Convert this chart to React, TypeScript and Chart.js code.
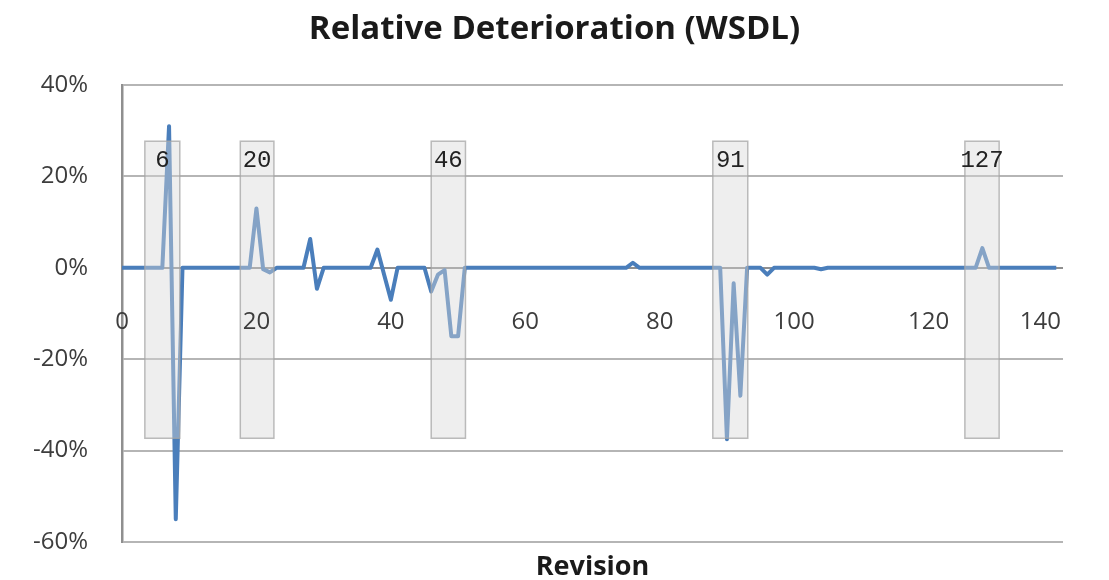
import { useEffect, useRef } from "react";
import { Chart, registerables } from "chart.js";

Chart.register(...registerables);

// Relative deterioration per revision (percent), revisions 0..139
const deterioration: number[] = [
  0, 0, 0, 0, 0, 0, 0, 31, -55, 0,
  0, 0, 0, 0, 0, 0, 0, 0, 0, 0,
  13, -0.3, -1, 0, 0, 0, 0, 0, 6.3, -4.6,
  0, 0, 0, 0, 0, 0, 0, 0, 4, -1.5,
  -7, 0, 0, 0, 0, 0, -5.2, -1.5, -0.5, -15,
  -15, 0, 0, 0, 0, 0, 0, 0, 0, 0,
  0, 0, 0, 0, 0, 0, 0, 0, 0, 0,
  0, 0, 0, 0, 0, 0, 1.1, 0, 0, 0,
  0, 0, 0, 0, 0, 0, 0, 0, 0, 0,
  -37.5, -3.4, -28, 0, 0, 0, -1.5, 0, 0, 0,
  0, 0, 0, 0, -0.3, 0, 0, 0, 0, 0,
  0, 0, 0, 0, 0, 0, 0, 0, 0, 0,
  0, 0, 0, 0, 0, 0, 0, 0, 4.3, 0,
  0, 0, 0, 0, 0, 0, 0, 0, 0, 0,
];

// Horizontal axis tick labels (revision numbers)
const xTickValues: number[] = [0, 20, 40, 60, 80, 100, 120, 140];

// Vertical axis range (percent)
const yMin = -60;
const yMax = 40;
const yStep = 20;

// Highlighted revision windows
const highlightLabels: string[] = ["6", "20", "46", "91", "127"];
const highlightFrom: number[] = [3.4, 17.6, 46, 87.9, 125.4];
const highlightTo: number[] = [8.6, 22.6, 51.1, 93.1, 130.5];
const highlightTop = 27.7;
const highlightBottom = -37.3;

const TEXT = "#3d3d3d";
const SANS = "'Open Sans', Lato, sans-serif";

const overlayPlugin = {
  id: "revisionOverlay",
  afterDatasetsDraw(chart: any) {
    const { ctx, scales } = chart;
    const x = scales.x;
    const y = scales.y;
    const t = y.getPixelForValue(highlightTop);
    const b = y.getPixelForValue(highlightBottom);
    ctx.save();
    highlightLabels.forEach((label, i) => {
      const l = x.getPixelForValue(highlightFrom[i]);
      const r = x.getPixelForValue(highlightTo[i]);
      ctx.fillStyle = "rgba(215,215,215,0.42)";
      ctx.fillRect(l, t, r - l, b - t);
      ctx.strokeStyle = "rgba(165,165,165,0.75)";
      ctx.lineWidth = 1.5;
      ctx.strokeRect(l, t, r - l, b - t);
      ctx.fillStyle = "#222";
      ctx.font = "24px 'Liberation Mono', monospace";
      ctx.textAlign = "center";
      ctx.textBaseline = "middle";
      ctx.fillText(label, (l + r) / 2, t + 19);
    });
    ctx.restore();
  },
  afterDraw(chart: any) {
    const { ctx, scales, chartArea } = chart;
    const x = scales.x;
    const y = scales.y;
    const zeroY = y.getPixelForValue(0);
    ctx.save();
    // horizontal axis labels, set below the zero line
    ctx.fillStyle = TEXT;
    ctx.font = `24px ${SANS}`;
    ctx.textBaseline = "middle";
    xTickValues.forEach((v, i) => {
      const px = x.getPixelForValue(v);
      const last = i === xTickValues.length - 1;
      ctx.textAlign = last ? "right" : "center";
      ctx.fillText(String(v), last ? chartArea.right - 2 : px, zeroY + 54);
    });
    // title
    ctx.fillStyle = "#1a1a1a";
    ctx.font = `bold 33px ${SANS}`;
    ctx.textAlign = "center";
    ctx.fillText("Relative Deterioration (WSDL)", chart.width / 2, 30);
    // axis title
    ctx.font = `bold 27px ${SANS}`;
    ctx.fillText("Revision", (chartArea.left + chartArea.right) / 2, 567);
    ctx.restore();
  },
};

export default function App() {
  const canvasRef = useRef<HTMLCanvasElement | null>(null);

  useEffect(() => {
    const canvas = canvasRef.current;
    if (!canvas) return;
    const chart = new Chart(canvas, {
      type: "line",
      data: {
        datasets: [
          {
            label: "Relative Deterioration (WSDL)",
            data: deterioration.map((v, i) => ({ x: i, y: v })),
            borderColor: "#4a7ebb",
            borderWidth: 4,
            pointRadius: 0,
            tension: 0,
            borderJoinStyle: "round",
            fill: false,
          },
        ],
      },
      options: {
        responsive: false,
        animation: false,
        devicePixelRatio: 1,
        layout: { padding: { top: 85, bottom: 38, right: 46, left: 0 } },
        plugins: {
          legend: { display: false },
          title: { display: false },
          tooltip: { enabled: false },
        },
        scales: {
          x: {
            type: "linear",
            min: 0,
            max: 140,
            display: false,
          },
          y: {
            min: yMin,
            max: yMax,
            afterFit(scale: any) {
              scale.width = 122;
            },
            ticks: {
              stepSize: yStep,
              padding: 34,
              color: TEXT,
              // small line height keeps the label overflow from shrinking the plot
              font: { family: SANS, size: 24, lineHeight: 0.2 },
              callback: (v: any) => `${v}%`,
            },
            grid: {
              drawTicks: false,
              lineWidth: 2,
              color: (c: any) => (c.tick && c.tick.value === 0 ? "#8f8f8f" : "#b5b5b5"),
            },
            border: { display: true, color: "#8f8f8f", width: 2.5 },
          },
        },
      },
      plugins: [overlayPlugin],
    });
    return () => chart.destroy();
  }, []);

  return (
    <div style={{ position: "fixed", left: 0, top: 0, width: 1109, height: 580, background: "#fff" }}>
      <canvas ref={canvasRef} width={1109} height={580} style={{ display: "block" }} />
    </div>
  );
}
